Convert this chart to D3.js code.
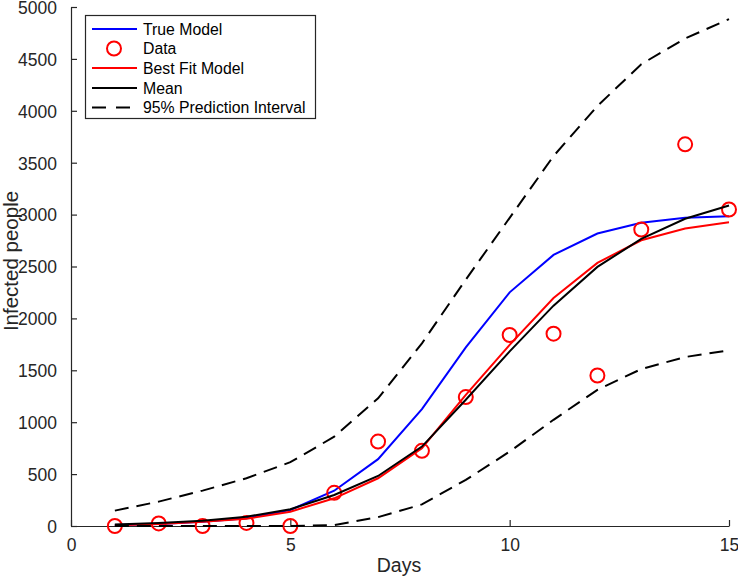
<!DOCTYPE html>
<html>
<head>
<meta charset="utf-8">
<script src="https://cdn.jsdelivr.net/npm/d3@7"></script>
<style>
  html, body { margin: 0; padding: 0; background: #fff; }
  svg { display: block; font-family: "Liberation Sans", Arial, sans-serif; }
</style>
</head>
<body>
<svg id="chart" width="738" height="578"></svg>
<script>
const days = [1,2,3,4,5,6,7,8,9,10,11,12,13,14,15];
const trueModel = [10,20,40,75,154,340,644,1126,1720,2251,2612,2818,2921,2969,2985];
const dataPoints = [0,25,0,30,0,320,813,724,1242,1840,1853,1450,2856,3677,3049];
const bestFit = [8,20,40,70,138,267,460,750,1264,1745,2197,2535,2753,2866,2927];
const meanModel = [15,30,50,90,161,299,482,765,1216,1682,2123,2496,2767,2960,3088];
const upperPI = [148,235,341,460,615,860,1230,1760,2374,2969,3564,4046,4449,4697,4883];
const lowerPI = [0,0,0,0,0,8,85,208,444,717,1023,1312,1512,1628,1692];
const xTicks = [0,5,10,15];
const yTicks = [0,500,1000,1500,2000,2500,3000,3500,4000,4500,5000];
const legendLabels = ["True Model","Data","Best Fit Model","Mean","95% Prediction Interval"];

const svg = d3.select("#chart");
const axisColor = "#262626";
const x = d3.scaleLinear().domain([0,15]).range([71,729]);
const y = d3.scaleLinear().domain([0,5000]).range([526,7]);

// axes
const xAxis = d3.axisBottom(x).tickValues(xTicks).tickFormat(d3.format("d")).tickSizeInner(-6).tickSizeOuter(0).tickPadding(13);
const yAxis = d3.axisLeft(y).tickValues(yTicks).tickFormat(d3.format("d")).tickSizeInner(-6).tickSizeOuter(0).tickPadding(14);

const gx = svg.append("g").attr("transform","translate(0,526)").call(xAxis);
const gy = svg.append("g").attr("transform","translate(71,0)").call(yAxis);
[gx, gy].forEach(g => {
  g.select(".domain").attr("stroke", axisColor).attr("stroke-width", 1.2);
  g.selectAll(".tick line").attr("stroke", axisColor).attr("stroke-width", 1.2);
  g.selectAll(".tick text").attr("fill", axisColor).style("font-size", "17.5px")
    .style("font-family", "'Liberation Sans', Arial, sans-serif");
});
gx.selectAll(".tick text").attr("dy", "0.71em");
gy.selectAll(".tick text").attr("dy", "0.36em");

// axis labels
svg.append("text").attr("x", 399).attr("y", 572).attr("text-anchor","middle")
  .attr("fill", axisColor).style("font-size","19.5px").text("Days");
svg.append("text").attr("transform","translate(18,261) rotate(-90)").attr("text-anchor","middle")
  .attr("fill", axisColor).style("font-size","20.5px").text("Infected people");

const line = vals => d3.line().x((d,i) => x(days[i])).y(d => y(d))(vals);

const plot = svg.append("g");
plot.append("path").attr("d", line(trueModel)).attr("fill","none").attr("stroke","#0000ff").attr("stroke-width",2);
plot.selectAll("circle.data").data(dataPoints).enter().append("circle")
  .attr("class","data").attr("cx",(d,i)=>x(days[i])).attr("cy",d=>y(d)).attr("r",7)
  .attr("fill","none").attr("stroke","#ff0000").attr("stroke-width",2);
plot.append("path").attr("d", line(bestFit)).attr("fill","none").attr("stroke","#ff0000").attr("stroke-width",2);
plot.append("path").attr("d", line(meanModel)).attr("fill","none").attr("stroke","#000000").attr("stroke-width",2);
plot.append("path").attr("d", line(upperPI)).attr("fill","none").attr("stroke","#000000").attr("stroke-width",2).attr("stroke-dasharray","14,8");
plot.append("path").attr("d", line(lowerPI)).attr("fill","none").attr("stroke","#000000").attr("stroke-width",2).attr("stroke-dasharray","14,8");

// legend
const lg = svg.append("g");
lg.append("rect").attr("x",85.5).attr("y",15.5).attr("width",230).attr("height",103)
  .attr("fill","#fff").attr("stroke",axisColor).attr("stroke-width",1.2);
const rowY = [29,48.5,68,88,107.5];
const styles = [
  {type:"line", color:"#0000ff"},
  {type:"marker", color:"#ff0000"},
  {type:"line", color:"#ff0000"},
  {type:"line", color:"#000000"},
  {type:"dash", color:"#000000"}
];
legendLabels.forEach((lab,i) => {
  const s = styles[i];
  if (s.type === "marker") {
    lg.append("circle").attr("cx",114).attr("cy",rowY[i]).attr("r",7)
      .attr("fill","none").attr("stroke",s.color).attr("stroke-width",2);
  } else {
    const l = lg.append("line").attr("x1",92).attr("x2",137).attr("y1",rowY[i]).attr("y2",rowY[i])
      .attr("stroke",s.color).attr("stroke-width",2);
    if (s.type === "dash") l.attr("stroke-dasharray","14,10");
  }
  lg.append("text").attr("x",143).attr("y",rowY[i]).attr("dy","0.35em")
    .attr("fill","#000").style("font-size","15.8px").text(lab);
});
</script>
</body>
</html>
